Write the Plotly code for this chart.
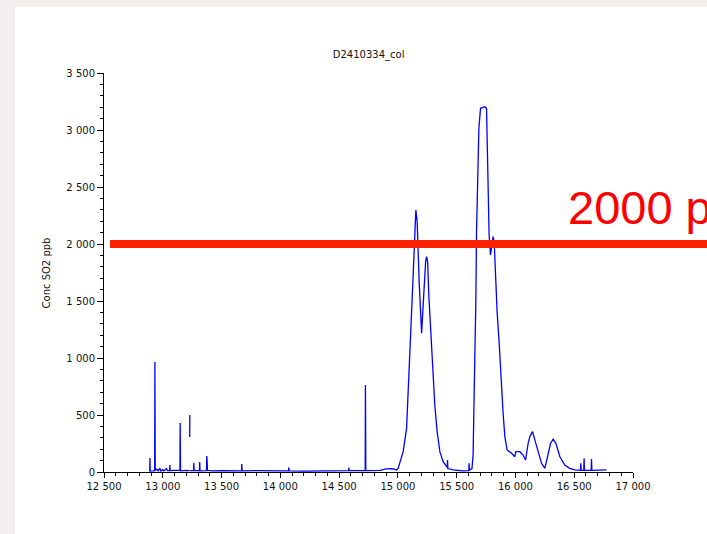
import plotly.graph_objects as go

# ---- data ----
time_pts = [
    12889, 12891, 12893, 12915, 12931, 12933, 12936, 12950, 12960, 12975, 12985,
    13000, 13010, 13030, 13040, 13058, 13060, 13063, 13100, 13146, 13148, 13151,
    13200, 13227, 13228, 13229, 13230, 13231, 13232, 13262, 13264, 13267, 13312,
    13314, 13317, 13372, 13374, 13377, 13380, 13420, 13500, 13600, 13670, 13672,
    13675, 13800, 13900, 14000, 14070, 14072, 14075, 14200, 14400, 14581, 14583,
    14586, 14650, 14722, 14724, 14727, 14850, 14900, 14950, 14975, 14989,
    15002, 15045, 15074, 15087, 15102, 15116, 15130, 15144, 15153, 15164, 15173,
    15181, 15193, 15202, 15215, 15224, 15236, 15244, 15253, 15263, 15280, 15300,
    15314, 15334, 15357, 15385, 15414, 15420, 15422, 15425, 15470, 15550, 15603,
    15606, 15609, 15630, 15640,
    15646, 15655, 15663, 15669, 15678, 15689, 15703, 15740, 15754, 15759, 15768,
    15776, 15788, 15797, 15810, 15819, 15831, 15844, 15861, 15873, 15882, 15895,
    15910, 15929, 15967, 15995, 16003, 16037, 16065, 16086, 16108, 16122, 16145,
    16165, 16193, 16222, 16250, 16279, 16299, 16321, 16344, 16378, 16420, 16462,
    16505, 16553, 16556, 16559, 16581, 16584, 16587, 16644, 16647, 16650, 16774,
]
conc_so2 = [
    5, 123, 8, 10, 12, 965, 15, 25, 10, 30, 8,
    20, 10, 30, 12, 12, 62, 12, 15, 15, 430, 10,
    15, 12, None, 307, 500, None, 12, 12, 80, 12, 12,
    88, 10, 12, 140, 100, 15, 10, 12, 8, 10, 70,
    10, 12, 8, 10, 10, 40, 10, 8, 10, 12, 38,
    12, 12, 12, 763, 12, 15, 28, 30, 25, 18,
    32, 178, 383, 675, 968, 1348, 1728, 2079, 2298, 2196, 1845,
    1669, 1406, 1217, 1465, 1699, 1845, 1889, 1845, 1553, 1202, 880,
    588, 354, 178, 90, 46, 40, 105, 30, 18, 10, 12,
    76, 15, 30, 150,
    529, 968, 1494, 2108, 2605, 3015, 3190, 3204, 3190, 2840, 2459,
    2079, 1904, 1962, 2064, 2020, 1699, 1406, 1143, 880, 807, 515,
    310, 193, 164, 134, 178, 178, 149, 105, 252, 310, 354,
    281, 164, 76, 32, 149, 252, 287, 252, 134, 61, 32,
    18, 15, 76, 15, 15, 120, 15, 15, 114, 15, 18,
]

x_range = [12500, 17000]
y_range = [0, 3500]
threshold = 2000
title_text = "D2410334_col"
y_label = "Conc SO2 ppb"
threshold_label = "2000 ppb"

fig = go.Figure()
fig.add_trace(go.Scatter(
    x=time_pts, y=conc_so2, mode="lines",
    line=dict(color="#0000ff", width=1.3),
    connectgaps=False, showlegend=False, hoverinfo="skip",
))

thr_paper = (threshold - y_range[0]) / (y_range[1] - y_range[0])

fig.update_layout(
    width=707, height=534,
    margin=dict(l=104, r=74, t=73, b=62),
    paper_bgcolor="#f2eeed",
    plot_bgcolor="white",
    separators=". ",
    font=dict(family="DejaVu Sans", size=10, color="#111"),
    title=dict(text=title_text, x=0.5214, xanchor="center", y=1 - 54 / 534,
               yanchor="middle", font=dict(size=10, color="#111")),
    xaxis=dict(range=x_range, dtick=500, tick0=12500, showgrid=False, zeroline=False,
               showline=True, linecolor="black", linewidth=1, tickformat=",d",
               ticks="outside", ticklen=5, tickcolor="black", separatethousands=True,
               minor=dict(dtick=100, ticks="outside", ticklen=3, tickcolor="black")),
    yaxis=dict(range=y_range, dtick=500, showgrid=False, zeroline=False,
               showline=True, linecolor="black", linewidth=1, tickformat=",d",
               ticks="outside", ticklen=6, tickcolor="black", separatethousands=True,
               minor=dict(dtick=100, ticks="outside", ticklen=3, tickcolor="black")),
    shapes=[
        dict(type="rect", xref="paper", yref="paper", x0=-0.1682, x1=1.3,
             y0=-0.3, y1=1.1654, fillcolor="white", line=dict(width=0), layer="below"),
        dict(type="line", xref="paper", yref="paper", x0=0.0113, x1=1.3,
             y0=thr_paper, y1=thr_paper, line=dict(color="#ff2200", width=8), layer="above"),
    ],
    annotations=[
        dict(text=y_label, xref="paper", yref="paper", x=-0.1078, y=0.5,
             xanchor="center", yanchor="middle", textangle=-90, showarrow=False,
             font=dict(size=10, color="#111")),
        dict(text=threshold_label, xref="paper", yref="paper", x=0.873, y=0.6617,
             xanchor="left", yanchor="middle", showarrow=False,
             font=dict(family="Liberation Sans", size=47, color="#ff0000")),
    ],
)

fig.write_html("out.html", config={"displayModeBar": False},
               post_script="document.body.style.margin='0';document.body.style.overflow='hidden';")
